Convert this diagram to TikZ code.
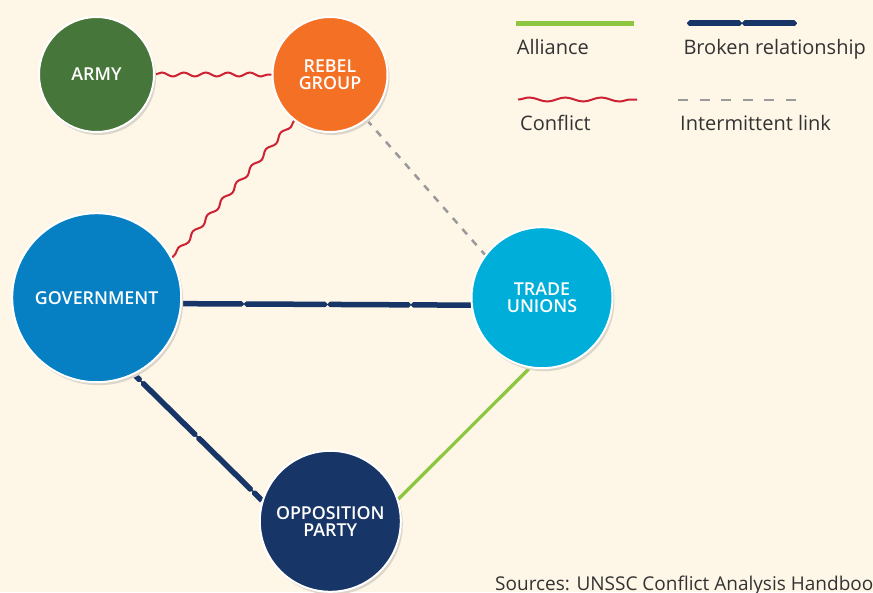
\documentclass[tikz,border=0pt]{standalone}
\usepackage{fontspec}
\setmainfont{Open Sans}
\IfFontExistsTF{Open Sans SemiBold}
  {\newfontfamily\labelfont{Open Sans SemiBold}}
  {\IfFontExistsTF{Open Sans Semibold}
     {\newfontfamily\labelfont{Open Sans Semibold}}
     {\newcommand\labelfont{\bfseries}}}
\usetikzlibrary{decorations.pathmorphing,decorations.markings,shadows}

\definecolor{cream}{RGB}{254,246,231}
\definecolor{shadowc}{RGB}{220,213,202}
\definecolor{armygreen}{RGB}{71,118,59}
\definecolor{rebelorange}{RGB}{243,112,36}
\definecolor{govblue}{RGB}{6,128,194}
\definecolor{tradecyan}{RGB}{0,174,218}
\definecolor{navy}{RGB}{23,53,102}
\definecolor{conflictred}{RGB}{204,34,51}
\definecolor{alliancegreen}{RGB}{141,198,65}
\definecolor{linkgrey}{RGB}{154,154,154}
\definecolor{textgrey}{RGB}{51,51,51}

\pgfdeclarelayer{bg}
\pgfdeclarelayer{links}
\pgfsetlayers{bg,links,main}

\tikzset{
  party/.style={circle, inner sep=0pt, draw=white, line width=2pt,
    text=white, align=center,
    font=\labelfont\fontsize{17.8}{16.8}\selectfont,
    drop shadow={shadow xshift=2pt, shadow yshift=-3pt, fill=shadowc, opacity=1}},
  conflict/.style={draw=conflictred, line width=2pt,
    decorate, decoration={snake, segment length=#1, amplitude=2pt}},
  conflict/.default=22pt,
  intermittent/.style={draw=linkgrey, line width=2.5pt, dash pattern=on 7pt off 7.5pt},
  alliance/.style={draw=alliancegreen, line width=3.3pt},
  % thick line cut by small bow-tie notches at regular breaks
  brokenlink/.style={draw=navy, line width=5.5pt, postaction={decorate},
    decoration={markings, mark=between positions #1 with {
      \fill[cream] (-3.2pt,4pt) -- (3.2pt,4pt) -- (0pt,0.6pt) -- cycle
                   (-3.2pt,-4pt) -- (3.2pt,-4pt) -- (0pt,-0.6pt) -- cycle;}}},
  legendtext/.style={anchor=base west, inner sep=0pt, text=textgrey,
    font=\fontsize{20}{22}\selectfont},
}

\begin{document}
\begin{tikzpicture}[x=1pt,y=-1pt]
  \useasboundingbox (0,0) rectangle (873,592);
  \begin{pgfonlayer}{bg}
    \fill[cream] (0,0) rectangle (873,592);
  \end{pgfonlayer}

  % actors
  \node[party, fill=armygreen,   minimum size=115pt] (army)  at (96.5,74.5)  {ARMY};
  \node[party, fill=rebelorange, minimum size=115pt] (rebel) at (330,74.5)   {REBEL\\GROUP};
  \node[party, fill=govblue,     minimum size=169pt] (gov)   at (96.7,297.7) {GOVERNMENT};
  \node[party, fill=tradecyan,   minimum size=141pt] (trade) at (542,297.7)  {TRADE\\UNIONS};
  \node[party, fill=navy,        minimum size=141pt] (opp)   at (330.3,521.3) {OPPOSITION\\PARTY};

  % relationships
  \begin{pgfonlayer}{links}
    \draw[conflict] (army.east) -- (rebel.west);
    \draw[conflict] (rebel.-128.5) -- (gov.28.8);
    \draw[intermittent] (rebel.-51) -- (trade.143.4);
    \draw[brokenlink={62pt and 240pt step 83.5pt}] (gov.-4.9) -- (trade.-174.1);
    \draw[brokenlink={10pt and 170pt step 78pt}] (gov.-64) -- (opp.163);
    \draw[alliance] (trade.-100.7) -- (opp.18.3);
  \end{pgfonlayer}

  % legend
  \coordinate (la1) at (516,23.5);  \coordinate (la2) at (634,23.5);
  \coordinate (lb1) at (687,23.3);  \coordinate (lb2) at (797,23.3);
  \coordinate (lc1) at (518,99.5);  \coordinate (lc2) at (637,99.5);
  \coordinate (ld1) at (678,100);   \coordinate (ld2) at (797,100);
  \draw[alliance, line width=4.5pt] (la1) -- (la2);
  \draw[brokenlink={0 and 1 step 0.5}, line width=6pt] (lb1) -- (lb2);
  \draw[conflict=36pt] (lc1) -- (lc2);
  \draw[intermittent, dash pattern=on 10pt off 11.6pt] (ld1) -- (ld2);

  \node[legendtext] (tal) at (516.7,54.3) {Alliance};
  \node[legendtext] (tbr) at (683.3,54.3) {Broken relationship};
  \node[legendtext] (tco) at (520,130)    {Conflict};
  \node[legendtext] (tin) at (680,130)    {Intermittent link};
  \node[legendtext, font=\fontsize{19}{22}\selectfont] (src) at (495,590.7)
    {Sources: UNSSC Conflict Analysis Handbook};
\end{tikzpicture}
\end{document}
